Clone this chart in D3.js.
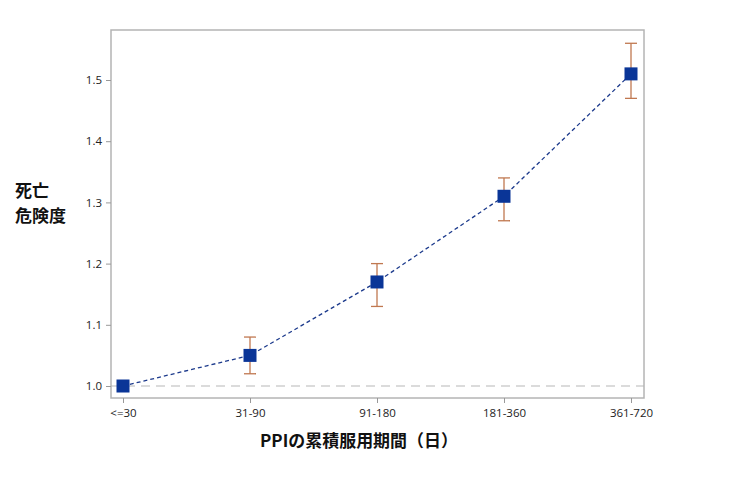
<!DOCTYPE html>
<html><head><meta charset="utf-8">
<script src="https://cdn.jsdelivr.net/npm/d3@7"></script>
<style>body{margin:0;background:#fff}</style>
</head><body>
<svg id="c" width="734" height="484"></svg>
<script>
const categories = ["<=30","31-90","91-180","181-360","361-720"];
const hr = [1.00, 1.05, 1.17, 1.31, 1.51];
const lower = [null, 1.02, 1.13, 1.27, 1.47];
const upper = [null, 1.08, 1.20, 1.34, 1.56];
const yTicks = [1.0, 1.1, 1.2, 1.3, 1.4, 1.5];

const svg = d3.select("#c");
const L = 111, R = 644, T = 30, B = 398;
const x = d3.scalePoint().domain(categories).range([123, 631]);
const y = d3.scaleLinear().domain([0.9804, 1.5817]).range([B, T]);
const font = "'Noto Sans CJK JP','Noto Sans',sans-serif";

// reference line
svg.append("line").attr("x1", L).attr("x2", R).attr("y1", y(1)).attr("y2", y(1))
  .attr("stroke", "#b8b8b8").attr("stroke-width", 1.2).attr("stroke-dasharray", "9,6");

// frame
svg.append("rect").attr("x", L).attr("y", T).attr("width", R - L).attr("height", B - T)
  .attr("fill", "none").attr("stroke", "#b4b4b4").attr("stroke-width", 1.5);

// axes
const xa = svg.append("g").attr("transform", `translate(0,${B})`)
  .call(d3.axisBottom(x).tickSize(5).tickPadding(6));
const ya = svg.append("g").attr("transform", `translate(${L},0)`)
  .call(d3.axisLeft(y).tickValues(yTicks).tickFormat(d3.format(".1f")).tickSize(5).tickPadding(4));
[xa, ya].forEach(g => {
  g.select(".domain").remove();
  g.selectAll("line").attr("stroke", "#999");
  g.selectAll("text").attr("fill", "#222").style("font-size", "11.5px").style("font-family", "'Open Sans','Noto Sans',sans-serif");
});

const data = categories.map((c, i) => ({c, v: hr[i], lo: lower[i], hi: upper[i]}));

// connecting line
svg.append("path").datum(data)
  .attr("d", d3.line().x(d => x(d.c)).y(d => y(d.v)))
  .attr("fill", "none").attr("stroke", "#1c3a8c").attr("stroke-width", 1.3).attr("stroke-dasharray", "4,3");

// error bars
const eb = data.filter(d => d.lo != null);
const ec = "#c07850";
svg.selectAll(".eb").data(eb).join("line")
  .attr("x1", d => x(d.c)).attr("x2", d => x(d.c)).attr("y1", d => y(d.lo)).attr("y2", d => y(d.hi))
  .attr("stroke", ec).attr("stroke-width", 1.3);
["lo", "hi"].forEach(k => {
  svg.selectAll(".cap" + k).data(eb).join("line")
    .attr("x1", d => x(d.c) - 6).attr("x2", d => x(d.c) + 6)
    .attr("y1", d => y(d[k])).attr("y2", d => y(d[k]))
    .attr("stroke", ec).attr("stroke-width", 1.3);
});

// markers
const s = 13;
svg.selectAll(".m").data(data).join("rect")
  .attr("x", d => x(d.c) - s / 2).attr("y", d => y(d.v) - s / 2)
  .attr("width", s).attr("height", s).attr("fill", "#0a3597");

// titles
svg.append("text").attr("x", 260).attr("y", 447)
  .attr("textLength", 198).attr("lengthAdjust", "spacingAndGlyphs")
  .style("font-family", font).style("font-size", "17px").style("font-weight", "bold").attr("fill", "#111")
  .text("PPIの累積服用期間（日）");
const yt = svg.append("text").style("font-family", font).style("font-size", "17px")
  .style("font-weight", "bold").attr("fill", "#111");
yt.append("tspan").attr("x", 15).attr("y", 197).text("死亡");
yt.append("tspan").attr("x", 15).attr("y", 222).text("危険度");
</script>
</body></html>
